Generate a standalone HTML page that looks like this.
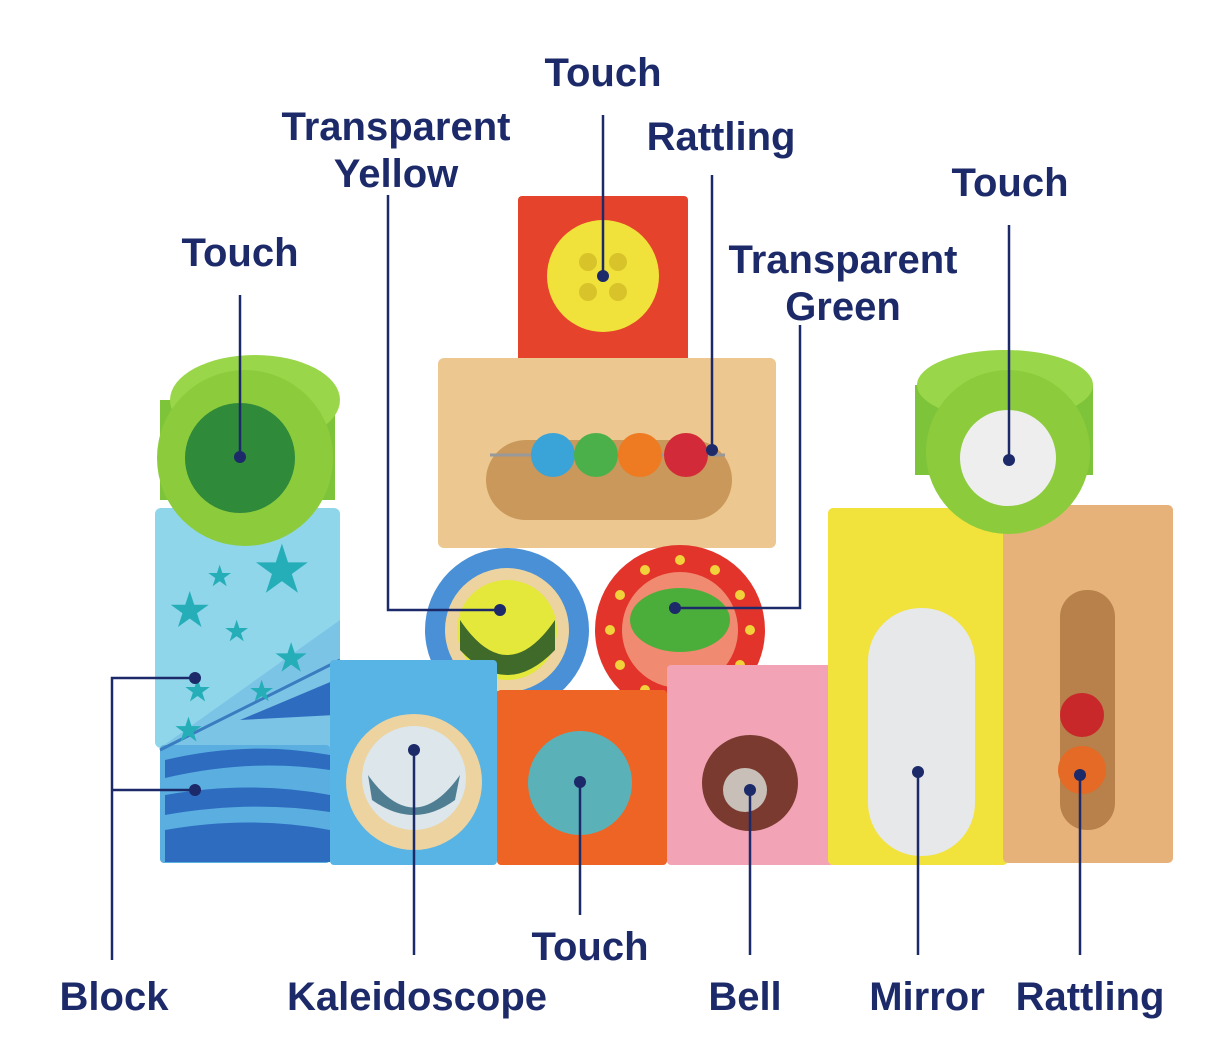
<!DOCTYPE html>
<html><head><meta charset="utf-8"><style>
html,body{margin:0;padding:0;background:#fff;width:1220px;height:1052px;overflow:hidden}
text{font-family:"Liberation Sans",sans-serif;font-weight:bold;fill:#1c2a6a;font-size:40px}
</style></head><body>
<svg width="1220" height="1052" viewBox="0 0 1220 1052" xmlns="http://www.w3.org/2000/svg">
<rect x="155" y="508" width="185" height="240" rx="6" fill="#8fd6ea"/>
<polygon points="340,620 340,748 160,748" fill="#7cc4e6"/>
<rect x="160" y="745" width="170" height="118" rx="4" fill="#5aaee0"/>
<g fill="#2e6cc0">
<path d="M165 760 Q250 740 330 755 L330 770 Q250 758 165 778Z"/>
<path d="M165 795 Q250 780 330 795 L330 812 Q250 800 165 815Z"/>
<path d="M165 830 Q250 815 330 830 L330 862 L165 862Z"/>
<polygon points="240,720 335,680 335,715"/>
</g>
<line x1="160" y1="750" x2="340" y2="660" stroke="#3a7cc0" stroke-width="3"/>
<g>
<text x="255" y="590" style="fill:#26aeb8;font-size:60px">★</text>
<text x="170" y="625" style="fill:#26aeb8;font-size:44px">★</text>
<text x="208" y="585" style="fill:#26aeb8;font-size:26px">★</text>
<text x="175" y="740" style="fill:#26aeb8;font-size:30px">★</text>
<text x="275" y="670" style="fill:#26aeb8;font-size:36px">★</text>
<text x="225" y="640" style="fill:#26aeb8;font-size:26px">★</text>
<text x="185" y="700" style="fill:#26aeb8;font-size:28px">★</text>
<text x="250" y="700" style="fill:#26aeb8;font-size:26px">★</text>
</g>
<rect x="160" y="400" width="175" height="100" fill="#7ec43a"/>
<ellipse cx="255" cy="400" rx="85" ry="45" fill="#9ad64a"/>
<circle cx="245" cy="458" r="88" fill="#8ccc3c"/>
<circle cx="240" cy="458" r="55" fill="#2f8a3a"/>
<rect x="518" y="196" width="170" height="192" rx="4" fill="#e6432c"/>
<circle cx="603" cy="276" r="56" fill="#f0e23a"/>
<g fill="#d8c42a"><circle cx="588" cy="262" r="9"/><circle cx="618" cy="262" r="9"/><circle cx="588" cy="292" r="9"/><circle cx="618" cy="292" r="9"/></g>
<rect x="438" y="358" width="338" height="190" rx="6" fill="#ecc78f"/>
<rect x="486" y="440" width="246" height="80" rx="40" fill="#c9985a"/>
<line x1="490" y1="455" x2="725" y2="455" stroke="#999" stroke-width="3"/>
<circle cx="553" cy="455" r="22" fill="#3aa4d8"/><circle cx="596" cy="455" r="22" fill="#4cb04a"/>
<circle cx="640" cy="455" r="22" fill="#ee7a22"/><circle cx="686" cy="455" r="22" fill="#d22a38"/>
<circle cx="507" cy="630" r="82" fill="#4a90d6"/>
<circle cx="507" cy="630" r="62" fill="#ecd3a0"/>
<circle cx="507" cy="630" r="50" fill="#e4e83a"/>
<path d="M460 620 Q507 690 555 620 L555 650 Q507 700 460 650Z" fill="#3f6a2a"/>
<circle cx="680" cy="630" r="85" fill="#e2342a"/>
<circle cx="680" cy="630" r="58" fill="#f08a70"/>
<ellipse cx="680" cy="620" rx="50" ry="32" fill="#4cae3a"/>
<g fill="#f2d23a">
<circle cx="680" cy="560" r="5"/><circle cx="715" cy="570" r="5"/><circle cx="740" cy="595" r="5"/><circle cx="750" cy="630" r="5"/><circle cx="740" cy="665" r="5"/><circle cx="715" cy="690" r="5"/><circle cx="680" cy="700" r="5"/><circle cx="645" cy="690" r="5"/><circle cx="620" cy="665" r="5"/><circle cx="610" cy="630" r="5"/><circle cx="620" cy="595" r="5"/><circle cx="645" cy="570" r="5"/></g>
<rect x="330" y="660" width="167" height="205" rx="4" fill="#58b4e4"/>
<circle cx="414" cy="782" r="68" fill="#ecd3a0"/>
<circle cx="414" cy="778" r="52" fill="#dde6ea"/>
<path d="M368 775 Q414 840 460 775 L455 800 Q414 830 372 800Z" fill="#4f7e92"/>
<rect x="497" y="690" width="170" height="175" rx="4" fill="#ee6424"/>
<circle cx="580" cy="783" r="52" fill="#5ab2b8"/>
<rect x="667" y="665" width="168" height="200" rx="4" fill="#f2a4b6"/>
<circle cx="750" cy="783" r="48" fill="#7a3a30"/>
<circle cx="745" cy="790" r="22" fill="#c8c0b8"/>
<rect x="828" y="508" width="180" height="357" rx="5" fill="#f2e23c"/>
<rect x="868" y="608" width="107" height="248" rx="53" fill="#e6e8ea"/>
<rect x="1003" y="505" width="170" height="358" rx="5" fill="#e6b27a"/>
<rect x="1060" y="590" width="55" height="240" rx="27" fill="#b8804a"/>
<circle cx="1082" cy="715" r="22" fill="#c8282a"/><circle cx="1082" cy="770" r="24" fill="#e46a26"/>
<rect x="915" y="385" width="178" height="90" fill="#7ec43a"/>
<ellipse cx="1005" cy="385" rx="88" ry="35" fill="#9ad64a"/>
<circle cx="1008" cy="452" r="82" fill="#8ccc3c"/>
<circle cx="1008" cy="458" r="48" fill="#eeeeee"/>
<g stroke="#1c2a6a" stroke-width="2.5" fill="none">
<path d="M603 115V276"/><path d="M388 195V610H500"/><path d="M712 175V450"/>
<path d="M800 325V608H675"/><path d="M1009 225V460"/><path d="M240 295V457"/>
<path d="M112 960V678H195M112 790H195"/><path d="M414 955V750"/><path d="M580 915V782"/>
<path d="M750 955V790"/><path d="M918 955V772"/><path d="M1080 955V775"/>
</g>
<g fill="#1c2a6a">
<circle cx="603" cy="276" r="6"/><circle cx="500" cy="610" r="6"/><circle cx="712" cy="450" r="6"/>
<circle cx="675" cy="608" r="6"/><circle cx="1009" cy="460" r="6"/><circle cx="240" cy="457" r="6"/>
<circle cx="195" cy="678" r="6"/><circle cx="195" cy="790" r="6"/><circle cx="414" cy="750" r="6"/>
<circle cx="580" cy="782" r="6"/><circle cx="750" cy="790" r="6"/><circle cx="918" cy="772" r="6"/><circle cx="1080" cy="775" r="6"/>
</g>
<g text-anchor="middle">
<text x="603" y="86">Touch</text>
<text x="396" y="140">Transparent</text><text x="396" y="187">Yellow</text>
<text x="721" y="150">Rattling</text>
<text x="1010" y="196">Touch</text>
<text x="843" y="273">Transparent</text><text x="843" y="320">Green</text>
<text x="240" y="266">Touch</text>
<text x="114" y="1010">Block</text>
<text x="417" y="1010">Kaleidoscope</text>
<text x="590" y="960">Touch</text>
<text x="745" y="1010">Bell</text>
<text x="927" y="1010">Mirror</text>
<text x="1090" y="1010">Rattling</text>
</g>
</svg>
</body></html>
